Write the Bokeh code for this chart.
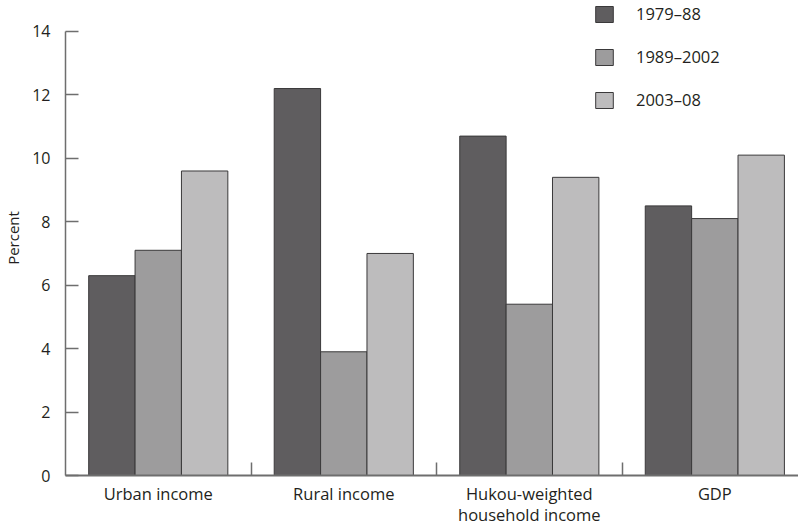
from bokeh.plotting import figure
from bokeh.models import FixedTicker, Legend, LegendItem, Range1d
from bokeh.embed import file_html
from bokeh.resources import INLINE

categories = ["Urban income", "Rural income", "Hukou-weighted\nhousehold income", "GDP"]
series_names = ["1979\u201388", "1989\u20132002", "2003\u201308"]
v_1979_88 = [6.3, 12.2, 10.7, 8.5]
v_1989_2002 = [7.1, 3.9, 5.4, 8.1]
v_2003_08 = [9.6, 7.0, 9.4, 10.1]
y_ticks = [0, 2, 4, 6, 8, 10, 12, 14]

colors = ["#5f5d5f", "#9d9c9d", "#bdbcbd"]
FONT = "Open Sans"
TXT = "#231f20"

p = figure(width=798, height=528, output_backend="svg", toolbar_location=None,
           x_range=Range1d(0, 3.951), y_range=Range1d(0, 14.975),
           min_border_left=65, min_border_right=0, min_border_top=0, min_border_bottom=52)
p.xgrid.visible = False
p.ygrid.visible = False
p.outline_line_color = None

centers = [i + 0.5 for i in range(len(categories))]
bw = 0.25
renderers = []
for k, (vals, col) in enumerate(zip([v_1979_88, v_1989_2002, v_2003_08], colors)):
    xs = [c + (k - 1) * bw for c in centers]
    r = p.vbar(x=xs, top=vals, width=bw, fill_color=col, line_color="#3a393a", line_width=1)
    renderers.append(r)

# x axis
p.xaxis.ticker = FixedTicker(ticks=centers, minor_ticks=[1, 2, 3])
p.xaxis.major_label_overrides = {c: lab for c, lab in zip(centers, categories)}
p.xaxis.major_tick_in = 0
p.xaxis.major_tick_out = 0
p.xaxis.minor_tick_in = 13
p.xaxis.minor_tick_out = 0
p.xaxis.minor_tick_line_color = "#6e6e6e"
p.xaxis.minor_tick_line_width = 1.5
p.xaxis.axis_line_color = "#6e6e6e"
p.xaxis.axis_line_width = 2
p.xaxis.major_label_text_font = FONT
p.xaxis.major_label_text_font_size = "16.5px"
p.xaxis.major_label_text_color = TXT
p.xaxis.major_label_text_line_height = 0.92
p.xaxis.major_label_standoff = 6

# y axis
p.yaxis.ticker = FixedTicker(ticks=y_ticks)
p.yaxis.bounds = (0, 14)
p.yaxis.major_tick_in = 13
p.yaxis.major_tick_out = 0
p.yaxis.minor_tick_line_color = None
p.yaxis.major_tick_line_color = "#6e6e6e"
p.yaxis.major_tick_line_width = 1.5
p.yaxis.axis_line_color = "#6e6e6e"
p.yaxis.axis_line_width = 1.5
p.yaxis.major_label_text_font = FONT
p.yaxis.major_label_text_font_size = "16px"
p.yaxis.major_label_text_color = TXT
p.yaxis.major_label_standoff = 15
p.yaxis.axis_label = "Percent"
p.yaxis.axis_label_text_font = FONT
p.yaxis.axis_label_text_font_size = "15px"
p.yaxis.axis_label_text_font_style = "normal"
p.yaxis.axis_label_text_color = TXT
p.yaxis.axis_label_standoff = 6

legend = Legend(items=[LegendItem(label=n, renderers=[r]) for n, r in zip(series_names, renderers)],
                location=(528, 364), glyph_width=22, glyph_height=20, label_standoff=21,
                spacing=20, padding=0, margin=0, border_line_color=None,
                background_fill_color="white", label_text_font=FONT,
                label_text_font_size="16.5px", label_text_color=TXT)
p.add_layout(legend, "center")

open("out.html", "w").write(file_html(p, INLINE))
